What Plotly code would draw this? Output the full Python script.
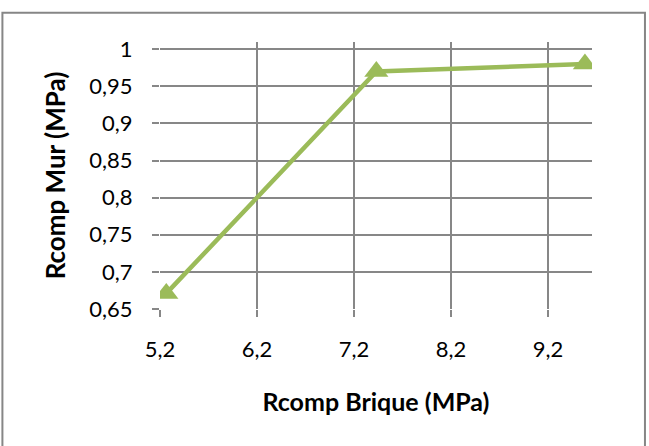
import plotly.graph_objects as go

# Data
rcomp_brique = [5.265, 7.43, 9.58]
rcomp_mur = [0.671, 0.970, 0.980]

x_tickvals = [5.2, 6.2, 7.2, 8.2, 9.2]
x_ticktext = ["5,2", "6,2", "7,2", "8,2", "9,2"]
y_tickvals = [0.65, 0.7, 0.75, 0.8, 0.85, 0.9, 0.95, 1.0]
y_ticktext = ["0,65", "0,7", "0,75", "0,8", "0,85", "0,9", "0,95", "1"]

x_title = "Rcomp Brique (MPa)"
y_title = "Rcomp Mur (MPa)"

GREEN = "#9BBB59"
GRID = "#878787"
FONT = "Lato, Calibri, Carlito, sans-serif"

fig = go.Figure()
fig.add_trace(go.Scatter(
    x=rcomp_brique, y=rcomp_mur,
    mode="lines+markers",
    line=dict(color=GREEN, width=4.5),
    marker=dict(symbol="triangle-up", size=21, color=GREEN),
    showlegend=False,
))

fig.update_layout(
    width=649, height=446,
    margin=dict(l=160, r=56.7, t=41.7, b=137),
    paper_bgcolor="white", plot_bgcolor="white",
    font=dict(family=FONT, color="black", size=22),
    separators=", ",
    xaxis=dict(
        range=[5.2, 9.653], tickvals=x_tickvals, ticktext=x_ticktext,
        showgrid=True, gridcolor=GRID, gridwidth=1.5,
        zeroline=False, showline=False,
        ticks="outside", ticklen=7, tickcolor=GRID, tickwidth=1.5,
        ticklabelstandoff=14,
        tickfont=dict(size=22),
        title=dict(text="<b>" + x_title + "</b>", font=dict(size=25), standoff=32),
    ),
    yaxis=dict(
        range=[0.65, 1.0098], tickvals=y_tickvals, ticktext=y_ticktext,
        showgrid=True, gridcolor=GRID, gridwidth=1.5,
        zeroline=False, showline=False,
        ticks="outside", ticklen=7, tickcolor=GRID, tickwidth=1.5,
        ticklabelstandoff=15,
        tickfont=dict(size=22),
        title=dict(text="<b>" + y_title + "</b>", font=dict(size=26), standoff=16),
    ),
    shapes=[dict(
        type="rect", xref="paper", yref="paper",
        x0=-0.3648, x1=1.1226, y0=-0.6, y1=1.110,
        line=dict(color="#868686", width=2), fillcolor="rgba(0,0,0,0)", layer="below",
    )],
)

fig.write_html("out.html", post_script="document.body.style.margin='0';",
               config={"displayModeBar": False})
